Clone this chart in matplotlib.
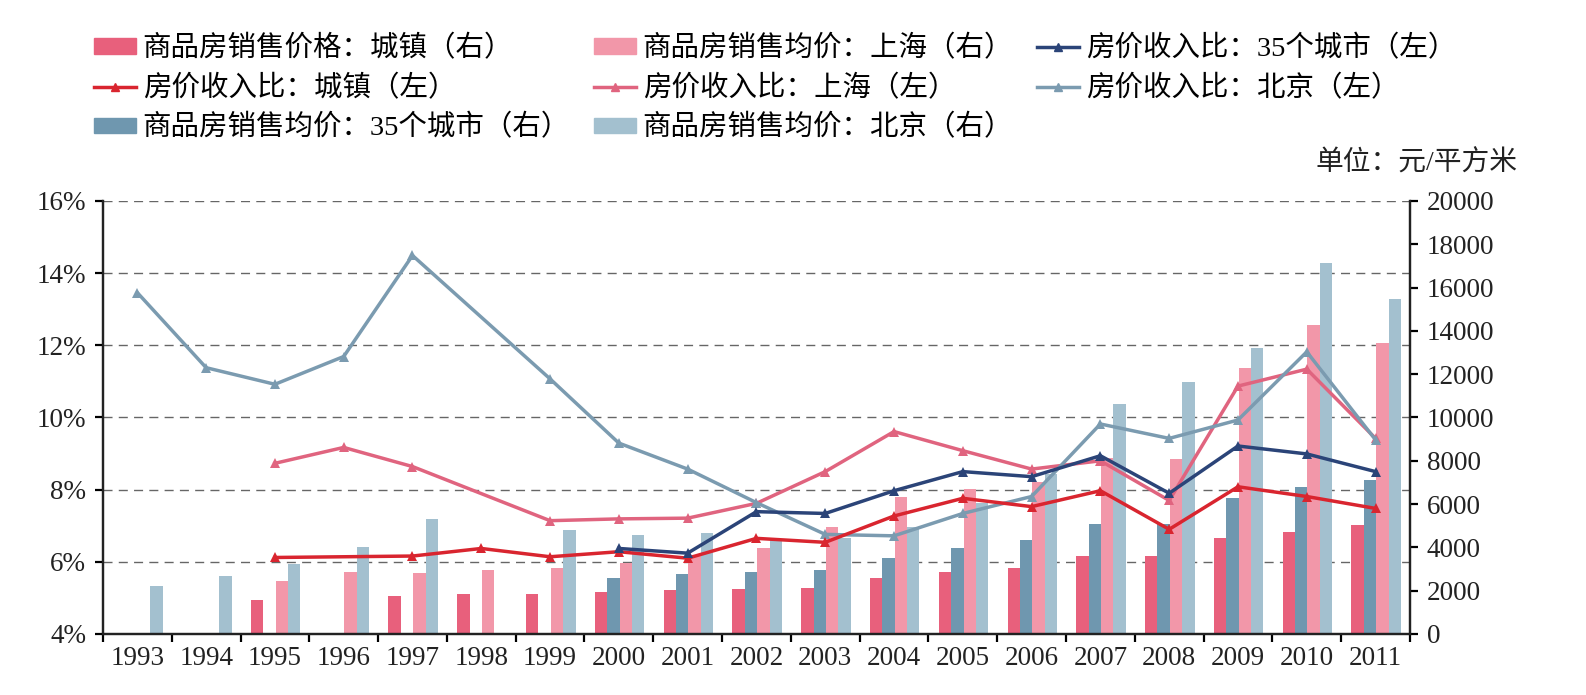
import numpy as np
import matplotlib
matplotlib.use("Agg")
import matplotlib.pyplot as plt
from matplotlib.patches import Patch
from matplotlib.lines import Line2D
from matplotlib.font_manager import FontProperties
from matplotlib.ticker import FixedLocator, NullFormatter, FuncFormatter

nan = np.nan

# ---------- data ----------
years = list(range(1993, 2012))

# 商品房销售价格/均价 (元/平方米, right axis)
price_town = [nan, nan, 1570, nan, 1770, 1860, 1860, 1940, 2017, 2063, 2140,
              2602, 2879, 3064, 3603, 3603, 4434, 4711, 5019]
price_35 = [nan, nan, nan, nan, nan, nan, nan, 2587, 2771, 2848, 2956,
            3494, 3957, 4320, 5081, 5066, 6297, 6806, 7128]
price_sh = [nan, nan, 2448, 2879, 2833, 2956, 3064, 3294, 3649, 3972, 4942,
            6343, 6682, 7000, 8114, 8098, 12302, 14273, 13427]
price_bj = [2231, 2693, 3233, 4034, 5312, nan, 4780, 4557, 4680, 4342, 4450,
            4930, 6035, 7400, 10638, 11640, 13210, 17151, 15489]

# 房价收入比 (%, left axis)
ratio_town = [nan, nan, 6.12, nan, 6.16, 6.37, 6.14, 6.28, 6.10, 6.65, 6.54,
              7.27, 7.76, 7.53, 7.97, 6.90, 8.08, 7.81, 7.48]
ratio_sh = [nan, nan, 8.73, 9.17, 8.64, nan, 7.14, 7.19, 7.21, 7.62, 8.50,
            9.61, 9.08, 8.57, 8.80, 7.70, 10.87, 11.34, 9.42]
ratio_bj = [13.46, 11.38, 10.92, 11.69, 14.49, nan, 11.07, 9.29, 8.57, 7.64, 6.76,
            6.72, 7.34, 7.81, 9.82, 9.42, 9.93, 11.82, 9.38]
ratio_35 = [nan, nan, nan, nan, nan, nan, nan, 6.37, 6.24, 7.39, 7.34,
            7.97, 8.50, 8.36, 8.94, 7.90, 9.21, 8.99, 8.50]

pct_ticks = [4, 6, 8, 10, 12, 14, 16]
yuan_ticks = list(range(0, 20001, 2000))

# ---------- style ----------
C_TOWN_BAR = "#E8607C"
C_35_BAR = "#6F97AF"
C_SH_BAR = "#F297A9"
C_BJ_BAR = "#A3C0CF"
C_TOWN_LINE = "#D9252F"
C_SH_LINE = "#E0647F"
C_BJ_LINE = "#7B9BB0"
C_35_LINE = "#2B4478"

serif = ["Liberation Serif", "DejaVu Serif"]
cjk = ["Liberation Serif", "Noto Sans CJK SC", "DejaVu Sans"]

fig = plt.figure(figsize=(15.86, 6.95), dpi=100)
ax = fig.add_axes([0.0649, 0.0878, 0.8241, 0.6230])   # bars, right scale
ax2 = ax.twinx()                                        # lines, left scale

x = np.arange(len(years))
w = 0.18
bar_series = [(price_town, C_TOWN_BAR), (price_35, C_35_BAR),
              (price_sh, C_SH_BAR), (price_bj, C_BJ_BAR)]
for i, (vals, col) in enumerate(bar_series):
    ax.bar(x + (i - 1.5) * w + 0.01, vals, width=w, color=col, zorder=2)

ax.set_ylim(0, 20000)
ax.set_xlim(-0.5, len(years) - 0.5)
ax.yaxis.tick_right()
ax.set_yticks(yuan_ticks)

# dashed grid at the left-axis (percent) ticks, drawn behind the bars
for p in pct_ticks[1:]:
    yv = (p - pct_ticks[0]) / (pct_ticks[-1] - pct_ticks[0]) * 20000
    ax.axhline(yv, color="#666666", lw=1.0, ls=(0, (6.5, 4.5)), zorder=0)

line_series = [(ratio_sh, C_SH_LINE), (ratio_bj, C_BJ_LINE),
               (ratio_town, C_TOWN_LINE), (ratio_35, C_35_LINE)]
for vals, col in line_series:
    v = np.array(vals, dtype=float)
    m = ~np.isnan(v)
    ax2.plot(x[m], v[m], color=col, lw=2.5, marker="^", markersize=7,
             markeredgewidth=0, zorder=3)

ax2.set_ylim(4, 16)
ax2.yaxis.tick_left()
ax2.set_yticks(pct_ticks)
ax2.yaxis.set_major_formatter(FuncFormatter(lambda v, _: "%d%%" % v))

# x axis: ticks at group boundaries, labels at centers
ax.xaxis.set_major_locator(FixedLocator(np.arange(-0.5, len(years), 1.0)))
ax.xaxis.set_major_formatter(NullFormatter())
ax.xaxis.set_minor_locator(FixedLocator(x))
ax.set_xticklabels([str(y) for y in years], minor=True)
ax.tick_params(axis="x", which="minor", length=0, pad=9)
ax.tick_params(axis="x", which="major", direction="out", length=6, width=1.6)
ax2.tick_params(axis="x", which="both", bottom=False, labelbottom=False)

for a in (ax, ax2):
    a.spines["top"].set_visible(False)
    for s in ("left", "right", "bottom"):
        a.spines[s].set_linewidth(1.6)
        a.spines[s].set_color("#222222")
    a.tick_params(axis="y", direction="out", length=6, width=1.6, pad=6)
    for lab in a.get_yticklabels() + a.get_xticklabels(minor=True):
        lab.set_fontfamily(serif)
        lab.set_fontsize(19.5)
        lab.set_color("#222222")

# legend
handles = [
    Patch(color=C_TOWN_BAR),
    Line2D([], [], color=C_TOWN_LINE, lw=2.5, marker="^", markersize=6),
    Patch(color=C_35_BAR),
    Patch(color=C_SH_BAR),
    Line2D([], [], color=C_SH_LINE, lw=2.5, marker="^", markersize=6),
    Patch(color=C_BJ_BAR),
    Line2D([], [], color=C_35_LINE, lw=2.5, marker="^", markersize=6),
    Line2D([], [], color=C_BJ_LINE, lw=2.5, marker="^", markersize=6),
]
labels = [
    "商品房销售价格：城镇（右）",
    "房价收入比：城镇（左）",
    "商品房销售均价：35个城市（右）",
    "商品房销售均价：上海（右）",
    "房价收入比：上海（左）",
    "商品房销售均价：北京（右）",
    "房价收入比：35个城市（左）",
    "房价收入比：北京（左）",
]
fig.legend(handles, labels, ncol=3, loc="upper left",
           bbox_to_anchor=(0.0523, 0.966), frameon=False,
           prop=FontProperties(family=cjk, size=20.5),
           handlelength=1.45, handleheight=0.45, handletextpad=0.25,
           columnspacing=0.85, labelspacing=0.44, borderaxespad=0)

fig.text(0.957, 0.765, "单位：元/平方米", ha="right", va="center",
         fontproperties=FontProperties(family=cjk, size=20), color="#222222")

fig.savefig("out.png", dpi=100)
